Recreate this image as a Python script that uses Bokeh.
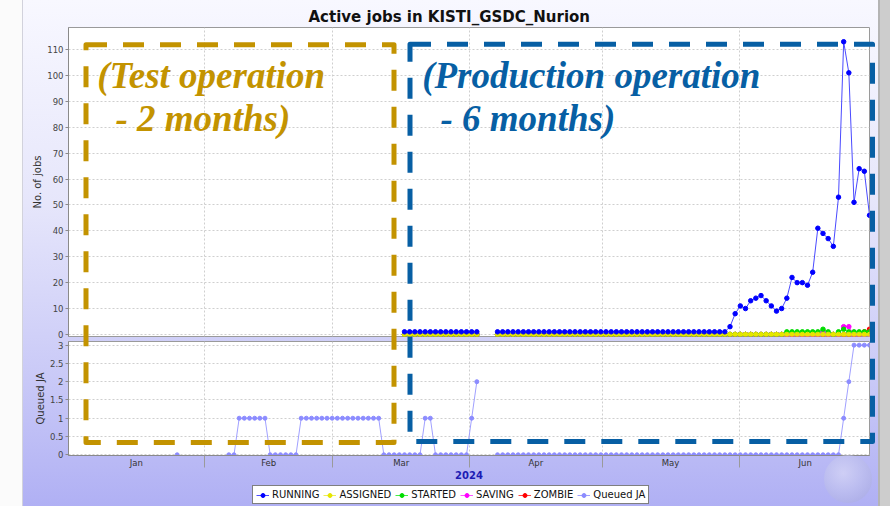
import numpy as np
import pandas as pd
from bokeh.plotting import figure
from bokeh.layouts import column
from bokeh.core.properties import value
from bokeh.models import (Range1d, FixedTicker, DatetimeTickFormatter, Legend, LegendItem,
                          Label, ColumnDataSource, Div)
from bokeh.embed import file_html
from bokeh.resources import INLINE

_ = None

title_text = "Active jobs in KISTI_GSDC_Nurion"
year_label = "2024"
upper_label = "No. of jobs"
lower_label = "Queued JA"
month_starts = ["2024-01-01", "2024-02-01", "2024-03-01", "2024-04-01",
                "2024-05-01", "2024-06-01", "2024-07-01"]
upper_ticks = [0, 10, 20, 30, 40, 50, 60, 70, 80, 90, 100, 110]
lower_ticks = [0, 0.5, 1, 1.5, 2, 2.5, 3]
lower_tick_labels = ["0", "0.5", "1", "1.5", "2", "2.5", "3"]

# sampling of the monitoring series
sample_first = "2024-01-01 04:48"
sample_step_hours = 28.08

running = [
    _, _, _, _, _, _, _, _, _, _, _, _, _,
    _, _, _, _, _, _, _, _, _, _, _, _, _,
    _, _, _, _, _, _, _, _, _, _, _, _, _,
    _, _, _, _, _, _, _, _, _, _, _, _, _,
    _, _, _, _, _, _, _, _, _, _, _, _, _,
    1, 1, 1, 1, 1, 1, 1, 1, 1, 1, 1, 1, 1,
    1, 1, _, _, _, 1, 1, 1, 1, 1, 1, 1, 1,
    1, 1, 1, 1, 1, 1, 1, 1, 1, 1, 1, 1, 1,
    1, 1, 1, 1, 1, 1, 1, 1, 1, 1, 1, 1, 1,
    1, 1, 1, 1, 1, 1, 1, 1, 1, 1, 1, 3, 8,
    11, 10, 13, 14, 15, 13, 11, 9, 10, 14, 22, 20, 20,
    19, 24, 41, 39, 37, 34, 53, 113, 101, 51, 64, 63, 46,
]
assigned = [
    _, _, _, _, _, _, _, _, _, _, _, _, _,
    _, _, _, _, _, _, _, _, _, _, _, _, _,
    _, _, _, _, _, _, _, _, _, _, _, _, _,
    _, _, _, _, _, _, _, _, _, _, _, _, _,
    _, _, _, _, _, _, _, _, _, _, _, _, _,
    0, 0, 0, 0, 0, 0, 0, 0, 0, 0, 0, 0, 0,
    0, 0, _, _, _, 0, 0, 0, 0, 0, 0, 0, 0,
    0, 0, 0, 0, 0, 0, 0, 0, 0, 0, 0, 0, 0,
    0, 0, 0, 0, 0, 0, 0, 0, 0, 0, 0, 0, 0,
    0, 0, 0, 0, 0, 0, 0, 0, 0, 0, 0, 0, 0,
    0, 0, 0, 0, 0, 0, 0, 0, 0, 0, 0, 0, 0,
    0, 0, 0, 0, 0, 0, 0, 0, 0, 0, 0, 0, 0,
]
started = [
    _, _, _, _, _, _, _, _, _, _, _, _, _,
    _, _, _, _, _, _, _, _, _, _, _, _, _,
    _, _, _, _, _, _, _, _, _, _, _, _, _,
    _, _, _, _, _, _, _, _, _, _, _, _, _,
    _, _, _, _, _, _, _, _, _, _, _, _, _,
    0, 0, 0, 0, 0, 0, 0, 0, 0, 0, 0, 0, 0,
    0, 0, _, _, _, 0, 0, 0, 0, 0, 0, 0, 0,
    0, 0, 0, 0, 0, 0, 0, 0, 0, 0, 0, 0, 0,
    0, 0, 0, 0, 0, 0, 0, 0, 0, 0, 0, 0, 0,
    0, 0, 0, 0, 0, 0, 0, 0, 0, 0, 0, 0, 0,
    0, 0, 0, 0, 0, 0, 0, 0, 0, 1, 1, 1, 1,
    1, 1, 1, 2, 1, 0, 1, 2, 1, 1, 1, 1, 1,
]
saving = [
    _, _, _, _, _, _, _, _, _, _, _, _, _,
    _, _, _, _, _, _, _, _, _, _, _, _, _,
    _, _, _, _, _, _, _, _, _, _, _, _, _,
    _, _, _, _, _, _, _, _, _, _, _, _, _,
    _, _, _, _, _, _, _, _, _, _, _, _, _,
    0, 0, 0, 0, 0, 0, 0, 0, 0, 0, 0, 0, 0,
    0, 0, _, _, _, 0, 0, 0, 0, 0, 0, 0, 0,
    0, 0, 0, 0, 0, 0, 0, 0, 0, 0, 0, 0, 0,
    0, 0, 0, 0, 0, 0, 0, 0, 0, 0, 0, 0, 0,
    0, 0, 0, 0, 0, 0, 0, 0, 0, 0, 0, 0, 0,
    0, 0, 0, 0, 0, 0, 0, 0, 0, 0, 0, 0, 0,
    0, 0, 0, 1, 0, 0, 0, 3, 3, 0, 0, 0, 0,
]
zombie = [
    _, _, _, _, _, _, _, _, _, _, _, _, _,
    _, _, _, _, _, _, _, _, _, _, _, _, _,
    _, _, _, _, _, _, _, _, _, _, _, _, _,
    _, _, _, _, _, _, _, _, _, _, _, _, _,
    _, _, _, _, _, _, _, _, _, _, _, _, _,
    0, 0, 0, 0, 0, 0, 0, 0, 0, 0, 0, 0, 0,
    0, 0, _, _, _, 0, 0, 0, 0, 0, 0, 0, 0,
    0, 0, 0, 0, 0, 0, 0, 0, 0, 0, 0, 0, 0,
    0, 0, 0, 0, 0, 0, 0, 0, 0, 0, 0, 0, 0,
    0, 0, 0, 0, 0, 0, 0, 0, 0, 0, 0, 0, 0,
    0, 0, 0, 0, 0, 0, 0, 0, 0, 0, 0, 0, 0,
    0, 0, 0, 0, 0, 0, 0, 0, 0, 0, 0, 1, 2,
]
queued = [
    _, _, _, _, _, _, _, _, _, _, _, _, _,
    _, _, _, _, _, _, _, _, 0, _, _, _, _,
    _, _, _, _, _, 0, 0, 1, 1, 1, 1, 1, 1,
    0, 0, 0, 0, 0, 0, 1, 1, 1, 1, 1, 1, 1,
    1, 1, 1, 1, 1, 1, 1, 1, 1, 0, 0, 0, 0,
    0, 0, 0, 0, 1, 1, 0, 0, 0, 0, 0, 0, 0,
    1, 2, _, _, _, 0, 0, 0, 0, 0, 0, 0, 0,
    0, 0, 0, 0, 0, 0, 0, 0, 0, 0, 0, 0, 0,
    0, 0, 0, 0, 0, 0, 0, 0, 0, 0, 0, 0, 0,
    0, 0, 0, 0, 0, 0, 0, 0, 0, 0, 0, 0, 0,
    0, 0, 0, 0, 0, 0, 0, 0, 0, 0, 0, 0, 0,
    0, 0, 0, 0, 0, 0, 0, 1, 2, 3, 3, 3, 3,
]

series_names = ["RUNNING", "ASSIGNED", "STARTED", "SAVING", "ZOMBIE"]
series_values = [running, assigned, started, saving, zombie]
series_colors = ["#0000ff", "#e6e600", "#00dd00", "#ff00ff", "#ff0000"]
series_line_colors = ["#4a4aff", "#eeee55", "#44ee44", "#ff55ff", "#ff4444"]
queued_name = "Queued JA"
queued_color = "#8c8cff"
queued_line_color = "#a0a0ff"

GOLD = "#C39300"
BLUE = "#075FA4"
FONT = "DejaVu Sans"

# dashed frames drawn over the chart: (colour, left, top, right, bottom) in page pixels
overlay_frames = [
    (GOLD, 86, 44.7, 394, 442.5),
    (BLUE, 410, 44.2, 872.5, 441.5),
]

# ---------------------------------------------------------------- data
n = len(running)
times = pd.Timestamp(sample_first) + pd.to_timedelta(np.arange(n) * sample_step_hours, unit="h")
cols = [f"s{i}" for i in range(len(series_names))]
data = {"t": times}
for c, vals in zip(cols, series_values):
    data[c] = np.array(vals, dtype=float)
data["q"] = np.array(queued, dtype=float)
src = ColumnDataSource(data)

jan1 = pd.Timestamp("2024-01-01")


def ms(days):
    return (jan1 + pd.Timedelta(days=days)).value / 1e6


starts = pd.to_datetime(month_starts)
bound_ms = [s.value / 1e6 for s in starts]
mid_ms = [(a + b) / 2 for a, b in zip(bound_ms[:-1], bound_ms[1:])]
inner_bounds = bound_ms[1:-1]

xr = Range1d(ms(0.16), ms(181.55))

common = dict(width=890, x_axis_type="datetime", x_range=xr, output_backend="svg",
              toolbar_location=None, min_border_left=68, min_border_right=21,
              border_fill_alpha=0, background_fill_color="white",
              outline_line_color="#9a9a9a")

# ---------------------------------------------------------------- upper
p1 = figure(height=339, y_range=Range1d(-0.8, 118.5), x_axis_location=None,
            min_border_top=27, min_border_bottom=3, title=title_text, **common)
p1.title.align = "left"
p1.title.offset = 240
p1.title.standoff = 4
p1.title.text_font = FONT
p1.title.text_font_size = "15px"
p1.title.text_font_style = "bold"
p1.title.text_color = "#111111"

# ---------------------------------------------------------------- lower
p2 = figure(height=145, y_range=Range1d(-0.02, 3.1), min_border_top=2,
            min_border_bottom=29, **common)

for p in (p1, p2):
    p.xgrid.ticker = FixedTicker(ticks=inner_bounds)
    for g in (p.xgrid, p.ygrid):
        g.grid_line_color = "#cfcfcf"
        g.grid_line_dash = "2 2"
        g.grid_line_width = 1
    ax = p.yaxis[0]
    ax.axis_line_color = "#8a8a8a"
    ax.major_tick_line_color = "#8a8a8a"
    ax.major_tick_out = 3
    ax.major_tick_in = 0
    ax.minor_tick_line_color = None
    ax.major_label_text_font = FONT
    ax.major_label_text_font_size = "8.5px"
    ax.major_label_text_color = "#444444"
    ax.major_label_standoff = 2
    ax.axis_label_text_font = FONT
    ax.axis_label_text_font_size = "10px"
    ax.axis_label_text_font_style = "normal"
    ax.axis_label_text_color = "#333333"
    ax.axis_label_standoff = 1

p1.yaxis[0].ticker = FixedTicker(ticks=upper_ticks)
p1.yaxis[0].axis_label = upper_label
p2.yaxis[0].ticker = FixedTicker(ticks=lower_ticks)
p2.yaxis[0].major_label_overrides = dict(zip(lower_ticks, lower_tick_labels))
p2.yaxis[0].axis_label = lower_label

xa = p2.xaxis[0]
xa.ticker = FixedTicker(ticks=mid_ms, minor_ticks=inner_bounds)
fmt = "%b"
xa.formatter = DatetimeTickFormatter(microseconds=fmt, milliseconds=fmt, seconds=fmt,
                                     minsec=fmt, minutes=fmt, hourmin=fmt, hours=fmt,
                                     days=fmt, months=fmt, years=fmt)
xa.major_tick_out = 0
xa.major_tick_in = 0
xa.minor_tick_out = 12
xa.minor_tick_in = 0
xa.minor_tick_line_color = "#9a9a9a"
xa.axis_line_color = "#8a8a8a"
xa.major_label_standoff = -10
xa.major_label_text_font = FONT
xa.major_label_text_font_size = "8.5px"
xa.major_label_text_color = "#333333"
xa.axis_label = year_label
xa.axis_label_text_font = FONT
xa.axis_label_text_font_size = "10px"
xa.axis_label_text_font_style = "bold"
xa.axis_label_text_color = "#1c1cb4"
xa.axis_label_standoff = 0

# ---------------------------------------------------------------- legend strip
p3 = figure(width=890, height=22, x_range=xr, y_range=Range1d(1000, 1001),
            x_axis_type="datetime", x_axis_location=None, y_axis_location=None,
            output_backend="svg", toolbar_location=None,
            min_border_left=0, min_border_right=0, min_border_top=0, min_border_bottom=0,
            border_fill_alpha=0, background_fill_alpha=0, outline_line_color=None)
p3.xgrid.visible = False
p3.ygrid.visible = False

# ---------------------------------------------------------------- series
order = [4, 3, 2, 1, 0]   # first series drawn last (on top)
legend_refs = {}
for i in order:
    c, col, lcol = cols[i], series_colors[i], series_line_colors[i]
    p1.line("t", c, source=src, line_color=lcol, line_width=1)
    p1.scatter("t", c, source=src, size=4.5, marker="circle",
               fill_color=col, line_color=col)
    # legend proxies (the strip's range lies far above every value)
    lr = p3.line("t", c, source=src, line_color=lcol, line_width=1)
    sr = p3.scatter("t", c, source=src, size=4.5, marker="circle", fill_color=col,
                    line_color=col)
    legend_refs[i] = [lr, sr]

p2.line("t", "q", source=src, line_color=queued_line_color, line_width=1)
p2.scatter("t", "q", source=src, size=4, marker="circle",
           fill_color=queued_color, line_color=queued_color)
ql = p3.line("t", "q", source=src, line_color=queued_line_color, line_width=1)
qs = p3.scatter("t", "q", source=src, size=4, marker="circle",
                fill_color=queued_color, line_color=queued_color)

items = [LegendItem(label=value(name), renderers=legend_refs[i])
         for i, name in enumerate(series_names)]
items.append(LegendItem(label=value(queued_name), renderers=[ql, qs]))

legend = Legend(items=items, orientation="horizontal", location=(184, 2),
                border_line_color="black", border_line_width=1,
                background_fill_color="white", background_fill_alpha=1,
                label_text_font=FONT, label_text_font_size="10px",
                label_text_color="#111111", padding=3, spacing=4, margin=0,
                glyph_width=13, glyph_height=10, label_height=10,
                label_standoff=3)
p3.add_layout(legend)

# ---------------------------------------------------------------- annotation texts
lab = dict(text_font="Liberation Serif", text_font_style="bold italic",
           text_font_size="37px", text_baseline="alphabetic", text_align="left")
p1.add_layout(Label(x=ms(6.66), y=99.8, text="(Test operation", text_color=GOLD, **lab))
p1.add_layout(Label(x=ms(10.8), y=83.3, text="- 2 months)", text_color=GOLD, **lab))
p1.add_layout(Label(x=ms(80.25), y=99.8, text="(Production operation", text_color=BLUE, **lab))
p1.add_layout(Label(x=ms(84.4), y=83.3, text="- 6 months)", text_color=BLUE, **lab))

rects = "".join(
    f'<rect x="{l}" y="{t}" width="{r - l}" height="{b - t}" fill="none" stroke="{c}" '
    f'stroke-width="5" stroke-dasharray="21 16" stroke-linejoin="round"/>'
    for c, l, t, r, b in overlay_frames)
globe = ('<defs><radialGradient id="gl" cx="40%" cy="38%" r="65%">'
         '<stop offset="0%" stop-color="#e2e2f6"/><stop offset="60%" stop-color="#c2c4ec"/>'
         '<stop offset="100%" stop-color="#aeb0e0"/></radialGradient></defs>'
         '<circle cx="848" cy="479" r="24" fill="url(#gl)" fill-opacity="0.55"/>')
svg = (f'<svg xmlns="http://www.w3.org/2000/svg" width="890" height="506" '
       f'style="display:block">{globe}{rects}</svg>')
overlay = Div(text=svg, width=890, height=506, margin=0,
              styles={"position": "absolute", "left": "0px", "top": "0px",
                      "pointer-events": "none", "z-index": "10",
                      "padding": "0px", "margin": "0px"})

bg = ("linear-gradient(to right, #fbfbfb 0px, #fbfbfb 22px, #d2d2dc 22px, #d2d2dc 23px, "
      "rgba(0,0,0,0) 23px, rgba(0,0,0,0) 878px, #b4b4b4 878px, #b4b4b4 880px, "
      "#cdcdcd 880px), "
      "linear-gradient(to bottom, #f8f8ff 0%, #e6e6fb 40%, #c9c9f7 75%, #b0b0f4 100%)")
layout = column(p1, p2, p3, overlay, styles={"background": bg})

html = file_html(layout, INLINE, title=title_text)
with open("out.html", "w") as f:
    f.write(html)
